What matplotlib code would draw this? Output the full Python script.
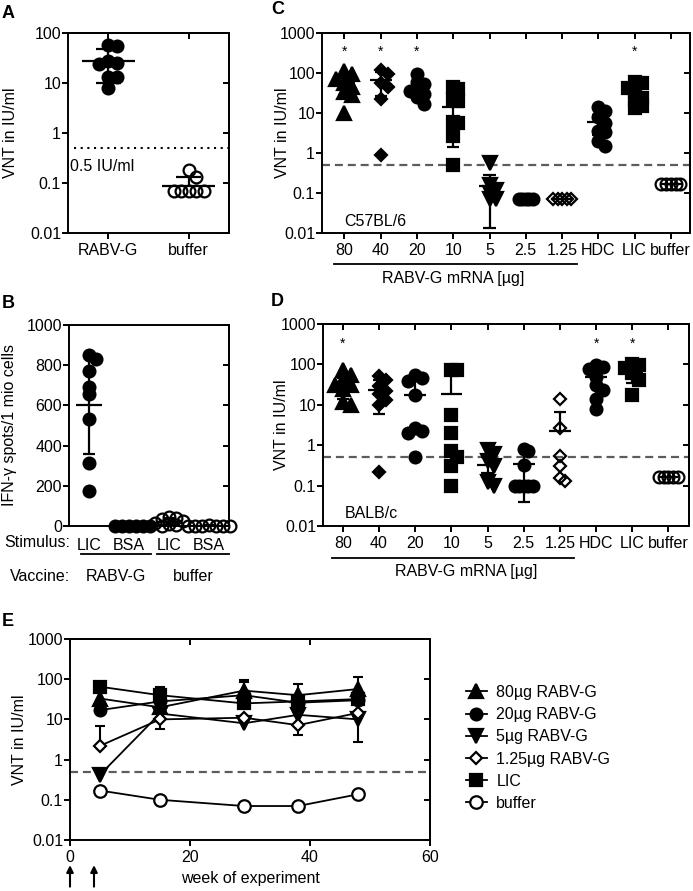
import numpy as np
import matplotlib
matplotlib.use("Agg")
import matplotlib.pyplot as plt
from matplotlib.ticker import NullLocator

# ---- values ----
# A: VNT after RABV-G vs buffer
a_groups = ["RABV-G", "buffer"]
a_rabv = [57, 55, 27, 25, 24, 13, 13, 8]
a_buffer = [0.18, 0.13, 0.068, 0.068, 0.068, 0.068, 0.068]
a_mean = [28, 0.089]
a_low = [10, np.nan]
a_high = [48, 0.13]

# B: ELISpot
b_stimulus = ["LIC", "BSA", "LIC", "BSA"]
b_vaccine = ["RABV-G", "buffer"]
b_rabv_lic = [850, 830, 770, 690, 655, 530, 315, 175]
b_rabv_bsa = [0, 0, 0, 0, 0, 0]
b_buf_lic = [45, 40, 35, 25, 15, 10, 5, 0]
b_buf_bsa = [6, 0, 0, 0, 0, 0, 0]
b_mean = [604, 0, 22, 1]
b_sd = [245, 0, 17, 2]

# C / D: dose titration
dose_labels = ["80", "40", "20", "10", "5", "2.5", "1.25", "HDC", "LIC", "buffer"]

c_vals = [
    [110, 97, 70, 55, 45, 33, 28, 10],
    [120, 95, 55, 45, 23, 0.9],
    [95, 60, 52, 40, 35, 30, 25, 17],
    [45, 40, 22, 20, 6, 5.5, 2.6, 0.5],
    [0.55, 0.16, 0.12, 0.1, 0.07, 0.07],
    [0.07, 0.07, 0.07, 0.07, 0.07],
    [0.07, 0.07, 0.07, 0.07, 0.07],
    [14, 11, 8, 5.5, 3.6, 3.4, 2.0, 1.5],
    [58, 55, 43, 33, 24, 21, 15, 13],
    [0.17, 0.17, 0.17, 0.17, 0.17],
]
c_mean = [56, 66, 42, 14, 0.15, 0.07, 0.07, 6.0, 32, 0.17]
c_low = [29, 27, 28, 1.4, 0.013, np.nan, np.nan, 2.9, 19, np.nan]
c_high = [80, 107, 60, 45, 0.29, np.nan, np.nan, 9, 43, np.nan]
c_stars = [0, 1, 2, 8]

d_vals = [
    [74, 55, 40, 31, 31, 25, 12, 10],
    [52, 42, 30, 22, 18, 13, 10, 0.22],
    [56, 45, 38, 17, 2.7, 2.2, 2.0, 0.5],
    [71, 71, 5.7, 2.0, 0.7, 0.5, 0.3, 0.1],
    [0.75, 0.6, 0.4, 0.3, 0.12, 0.1],
    [0.8, 0.7, 0.33, 0.1, 0.1, 0.1, 0.1, 0.1],
    [14, 2.7, 0.55, 0.3, 0.15, 0.13],
    [95, 88, 75, 50, 31, 23, 14, 8],
    [100, 95, 80, 60, 42, 17],
    [0.166, 0.166, 0.166, 0.166, 0.166],
]
d_mean = [33, 23, 17, 19, 0.33, 0.35, 2.2, 48, 63, 0.166]
d_low = [14, 5.8, np.nan, np.nan, 0.2, 0.04, np.nan, 14, 35, np.nan]
d_high = [45, 40, 38, 70, 0.5, 0.7, 6.8, 82, 90, np.nan]
d_stars = [0, 7, 8]

# E: long term follow-up
e_weeks = [5, 15, 29, 38, 48]
e_labels = ["80µg RABV-G", "20µg RABV-G", "5µg RABV-G", "1.25µg RABV-G", "LIC", "buffer"]
e_80 = [33, 20, 52, 40, 57]
e_20 = [17, 28, 40, 26, 30]
e_5 = [0.42, 14, 8, 13, 10]
e_125 = [2.2, 10, 11, 7.2, 14.5]
e_lic = [65, 40, 25, 28, 32]
e_buf = [0.17, 0.1, 0.07, 0.07, 0.137]
nan = np.nan
e_80_hi = [nan, nan, 95, 75, 115]
e_20_hi = [nan, 55, 85, nan, nan]
e_5_hi = [0.55, nan, nan, nan, nan]
e_5_lo = [nan, nan, nan, nan, 2.8]
e_125_hi = [7, nan, nan, nan, nan]
e_125_lo = [nan, 5.8, nan, 4.2, nan]
e_lic_hi = [nan, 65, nan, nan, nan]
boost_weeks = [0, 4]
cutoff = 0.5

# ---- styling ----
plt.rcParams["font.family"] = ["Liberation Sans", "DejaVu Sans"]
plt.rcParams["font.size"] = 11.5
plt.rcParams["axes.linewidth"] = 1.4

W, H = 693, 891
fig = plt.figure(figsize=(W / 100, H / 100), dpi=100)
LW = 1.4
DASH = "#5c5c5c"


def px_axes(l, t, r, b):
    return fig.add_axes([l / W, 1 - b / H, (r - l) / W, (b - t) / H])


def log_axis(ax, top):
    ax.set_yscale("log")
    ax.set_ylim(0.01, top)
    ticks = [10.0 ** k for k in range(-2, int(round(np.log10(top))) + 1)]
    ax.set_yticks(ticks, [f"{t:g}" for t in ticks])
    ax.yaxis.set_minor_locator(NullLocator())
    return ticks


def mirror(ax, yticks, xticks=None):
    # prism style: extra inward ticks on the right / top spine
    sy = ax.secondary_yaxis("right")
    sy.set_yticks(yticks)
    sy.yaxis.set_minor_locator(NullLocator())
    sy.tick_params(direction="in", length=4, width=LW, labelright=False)
    if xticks is not None:
        sx = ax.secondary_xaxis("top")
        sx.set_xticks(xticks)
        sx.tick_params(direction="in", length=4, width=LW, labeltop=False)


def swarm(ax, xc, vals, gap):
    # push points sideways (in pixels) until they stop piling up
    vals = np.asarray(vals, float)
    pts = ax.transData.transform(np.column_stack([np.full(len(vals), xc), vals]))
    placed = []
    xs = np.empty(len(vals))
    for i in np.argsort(-vals, kind="stable"):
        x0, y0 = pts[i]
        for k in range(60):
            off = ((k + 1) // 2) * gap * (1 if k % 2 else -1)
            if all((x0 + off - px) ** 2 + (y0 - py) ** 2 >= gap ** 2 * 0.999 for px, py in placed):
                break
        placed.append((x0 + off, y0))
        xs[i] = x0 + off
    back = ax.transData.inverted().transform(np.column_stack([xs, pts[:, 1]]))
    return back[:, 0]


def column(ax, xc, vals, marker, ms, filled, gap):
    xs = swarm(ax, xc, vals, gap)
    ax.plot(xs, vals, ls="none", marker=marker, ms=ms, mfc="k" if filled else "none",
            mec="k", mew=1.6, zorder=3, clip_on=False)


def meanbar(ax, xc, m, lo, hi, half=0.3, cap=0.16):
    ax.hlines(m, xc - half, xc + half, color="k", lw=1.6, zorder=4)
    for end in (lo, hi):
        if not np.isnan(end):
            ax.vlines(xc, m, end, color="k", lw=1.6, zorder=4)
            ax.hlines(end, xc - cap, xc + cap, color="k", lw=1.6, zorder=4)


def cat_axis(ax, n, left, right):
    ax.set_xlim(left, right)
    ax.set_xticks(range(n), [""] * n)
    ax.tick_params(direction="out", length=4, width=LW)
    ax.tick_params(axis="y", pad=1)


def letter(x, y, s):
    fig.text(x / W, 1 - y / H, s, fontsize=13, fontweight="bold", ha="left", va="center")


# ---------------- A ----------------
axA = px_axes(68, 33, 229, 233)
ticks = log_axis(axA, 100)
cat_axis(axA, 2, -0.5, 1.5)
axA.set_xticklabels(a_groups)
axA.tick_params(axis="x", pad=3)
mirror(axA, ticks, xticks=range(2))
column(axA, 0, a_rabv, "o", 8.5, True, 9)
column(axA, 1, a_buffer, "o", 8.5, False, 7.5)
for i in range(2):
    meanbar(axA, i, a_mean[i], a_low[i], a_high[i], half=0.33, cap=0.155)
axA.axhline(cutoff, xmin=6 / 161, color="k", ls=(0, (1, 2.2)), lw=1.5)
axA.text(-0.47, 0.21, "0.5 IU/ml", va="center", ha="left")
axA.set_ylabel("VNT in IU/ml")
axA.yaxis.set_label_coords(-0.31, 0.5)

# ---------------- B ----------------
axB = px_axes(69, 325, 229, 526)
axB.set_ylim(0, 1000)
axB.set_yticks(range(0, 1001, 200))
cat_axis(axB, 4, -0.5, 3.5)
axB.set_xticklabels(b_stimulus)
axB.tick_params(axis="x", length=0, pad=9)
mirror(axB, range(0, 1001, 200))
for i, (vals, filled) in enumerate([(b_rabv_lic, True), (b_rabv_bsa, True),
                                     (b_buf_lic, False), (b_buf_bsa, False)]):
    column(axB, i, vals, "o", 8.5, filled, 7)
    meanbar(axB, i, b_mean[i], b_mean[i] - b_sd[i] if b_sd[i] else np.nan,
            b_mean[i] + b_sd[i] if b_sd[i] else np.nan, half=0.33, cap=0.16)
axB.set_ylabel("IFN-γ spots/1 mio cells")
axB.yaxis.set_label_coords(-0.325, 0.5)
tB = axB.get_xaxis_transform()
axB.text(-0.47, -0.083, "Stimulus:", transform=tB, ha="right", va="center")
axB.text(-0.47, -0.25, "Vaccine:", transform=tB, ha="right", va="center")
for (x0, x1), lab in zip([(-0.2, 1.55), (1.7, 3.5)], b_vaccine):
    axB.plot([x0, x1], [-0.14, -0.14], color="k", lw=1.3, transform=tB, clip_on=False)
    axB.text((x0 + x1) / 2, -0.25, lab, transform=tB, ha="center", va="center")

# ---------------- C and D ----------------
markers = ["^", "D", "o", "s", "v", "o", "D", "o", "s", "o"]
sizes = [10, 6.5, 8.5, 8, 9.5, 8.5, 6.5, 8.5, 8, 8.5]
c_fill = [1, 1, 1, 1, 1, 1, 0, 1, 1, 0]
c_gaps = [8, 7, 7, 5, 6, 3.5, 4.5, 7, 7, 4.8]
d_gaps = [8, 7, 7, 6, 6, 4.5, 5, 7, 7, 4.8]


def dose_panel(box, left, right, vals, means, lows, highs, stars, gaps, strain, ylab_x, lab_x):
    ax = px_axes(*box)
    ticks = log_axis(ax, 1000)
    cat_axis(ax, len(dose_labels), left, right)
    ax.set_xticklabels(dose_labels)
    ax.tick_params(axis="x", pad=3)
    mirror(ax, ticks, xticks=range(len(dose_labels)))
    ax.axhline(cutoff, color=DASH, ls=(0, (3.6, 2.2)), lw=1.6, zorder=1)
    for i, v in enumerate(vals):
        column(ax, i, v, markers[i], sizes[i], c_fill[i], gaps[i])
        meanbar(ax, i, means[i], lows[i], highs[i], half=0.3, cap=0.17)
    for i in stars:
        ax.text(i, 330, "*", ha="center", va="center", fontsize=10)
    ax.text(0.06, 0.06, strain, transform=ax.transAxes, ha="left", va="center")
    tx = ax.get_xaxis_transform()
    ax.plot([-0.3, 6.4], [-0.157, -0.157], color="k", lw=1.3, transform=tx, clip_on=False)
    ax.text(lab_x, -0.225, "RABV-G mRNA [µg]", transform=tx, ha="center", va="center")
    ax.set_ylabel("VNT in IU/ml")
    ax.yaxis.set_label_coords(ylab_x, 0.5)
    return ax


axC = dose_panel((322, 33, 690, 233), -0.62, 9.53, c_vals, c_mean, c_low, c_high,
                 c_stars, c_gaps, "C57BL/6", -0.087, 3.0)
axD = dose_panel((323, 324, 689, 526), -0.55, 9.57, d_vals, d_mean, d_low, d_high,
                 d_stars, d_gaps, "BALB/c", -0.093, 3.4)

# ---------------- E ----------------
axE = px_axes(70, 639, 430, 840)
ticks = log_axis(axE, 1000)
axE.set_xlim(0, 60)
axE.set_xticks([0, 20, 40, 60])
axE.tick_params(direction="out", length=4, width=LW)
axE.tick_params(axis="y", pad=1)
mirror(axE, ticks, xticks=[0, 20, 40, 60])
axE.axhline(cutoff, color=DASH, ls=(0, (3.6, 2.2)), lw=1.6, zorder=1)

series = [
    (e_80, "^", 9.5, "k", e_80_hi, [nan] * 5),
    (e_20, "o", 8.5, "k", e_20_hi, [nan] * 5),
    (e_5, "v", 9.5, "k", e_5_hi, e_5_lo),
    (e_125, "D", 6.5, "white", e_125_hi, e_125_lo),
    (e_lic, "s", 8, "k", e_lic_hi, [nan] * 5),
    (e_buf, "o", 9, "white", [nan] * 5, [nan] * 5),
]
handles = []
for (vals, m, ms, fc, hi, lo), lab in zip(series, e_labels):
    for x, y, h, l in zip(e_weeks, vals, hi, lo):
        for end in (h, l):
            if not np.isnan(end):
                axE.vlines(x, y, end, color="k", lw=1.5, zorder=2)
                axE.hlines(end, x - 0.9, x + 0.9, color="k", lw=1.5, zorder=2)
    line, = axE.plot(e_weeks, vals, color="k", lw=1.3, marker=m, ms=ms, mfc=fc,
                     mec="k", mew=1.6, zorder=3, label=lab)
    handles.append(line)
axE.legend(handles=handles, loc="upper left", bbox_to_anchor=(466 / W, 1 - 685 / H),
           bbox_transform=fig.transFigure, frameon=False, handlelength=1.3,
           handletextpad=0.6, labelspacing=0.45, borderpad=0, borderaxespad=0)
for wk in boost_weeks:
    axE.annotate("", xy=(wk, -0.125), xytext=(wk, -0.232), xycoords=("data", "axes fraction"),
                 textcoords=("data", "axes fraction"),
                 arrowprops=dict(arrowstyle="-|>", color="k", lw=1.5, mutation_scale=10,
                                 shrinkA=0, shrinkB=0), annotation_clip=False)
axE.set_xlabel("week of experiment", labelpad=4)
axE.set_ylabel("VNT in IU/ml")
axE.yaxis.set_label_coords(-0.119, 0.5)

letter(2, 14, "A")
letter(2, 304, "B")
letter(271, 10, "C")
letter(271, 302, "D")
letter(2, 622, "E")

fig.savefig("out.png", dpi=100)
